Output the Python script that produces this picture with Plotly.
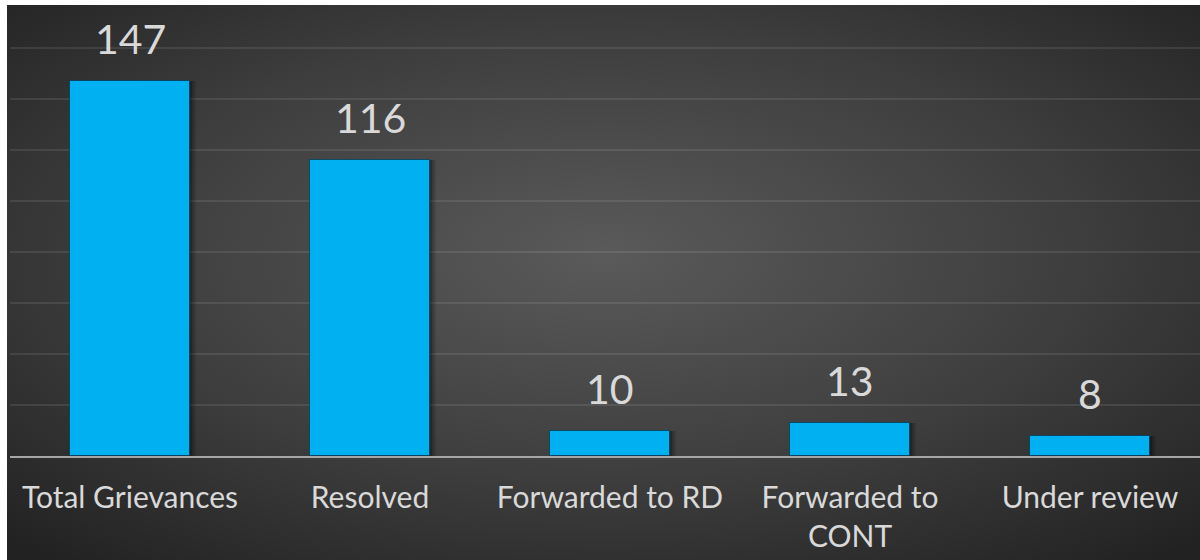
import base64
import plotly.graph_objects as go

categories = ["Total Grievances", "Resolved", "Forwarded to RD", "Forwarded to<br>CONT", "Under review"]
values = [147, 116, 10, 13, 8]
value_labels = ["147", "116", "10", "13", "8"]

W, H = 1200, 560
ML, MR, MT, MB = 10, 0, 5, 104
plot_w = W - ML - MR
plot_h = H - MT - MB

# radial gradient background (dark edges, lighter centre)
svg = f'''<svg xmlns="http://www.w3.org/2000/svg" width="1193" height="555" viewBox="0 0 1193 555" preserveAspectRatio="none">
<defs><radialGradient id="g" cx="0.5" cy="0.45" r="0.72" gradientUnits="objectBoundingBox">
<stop offset="0" stop-color="#5a5a5a"/><stop offset="0.55" stop-color="#3e3e3e"/><stop offset="1" stop-color="#222222"/>
</radialGradient></defs>
<rect x="0" y="0" width="1193" height="555" fill="url(#g)"/></svg>'''
src = "data:image/svg+xml;base64," + base64.b64encode(svg.encode()).decode()

fig = go.Figure()
# soft shadow
for dx, a in [(0.025, 0.10), (0.017, 0.15), (0.010, 0.20)]:
    fig.add_trace(go.Bar(
        x=list(range(len(values))), y=values, width=0.5, offset=-0.25 + dx,
        marker=dict(color=f"rgba(0,0,0,{a})", line=dict(width=0)),
        hoverinfo="skip", showlegend=False))
fig.add_trace(go.Bar(
    x=list(range(len(values))), y=values, width=0.5, offset=-0.25,
    marker=dict(color="#00B0F0", line=dict(color="rgba(0,40,70,0.6)", width=1)),
    showlegend=False))

for i, (v, t) in enumerate(zip(values, value_labels)):
    fig.add_annotation(x=i, y=v, text=t, showarrow=False, yanchor="bottom",
                       yshift=16, font=dict(family="Lato", size=41, color="#D9D9D9"))

fig.add_layout_image(dict(
    source=src, xref="paper", yref="paper",
    x=(7 - ML) / plot_w, y=1.0, sizex=1193 / plot_w, sizey=555 / plot_h,
    xanchor="left", yanchor="top", sizing="stretch", layer="below"))

fig.update_layout(
    width=W, height=H,
    margin=dict(l=ML, r=MR, t=MT, b=MB),
    paper_bgcolor="white", plot_bgcolor="rgba(0,0,0,0)",
    barmode="overlay", bargap=0,
    xaxis=dict(tickmode="array", tickvals=list(range(len(values))), ticktext=categories,
               range=[-0.5, -0.5 + plot_w / 240], showgrid=False, showline=True,
               linecolor="#A6A6A6", linewidth=2, ticks="", ticklabelstandoff=14,
               tickfont=dict(family="Lato", size=30, color="#D9D9D9"), fixedrange=True),
    yaxis=dict(range=[0, plot_h / 2.55], dtick=20, showgrid=True,
               gridcolor="rgba(255,255,255,0.09)", gridwidth=2, zeroline=False,
               showticklabels=False, ticks="", fixedrange=True),
    font=dict(family="Lato"),
)

fig.write_html("out.html")
